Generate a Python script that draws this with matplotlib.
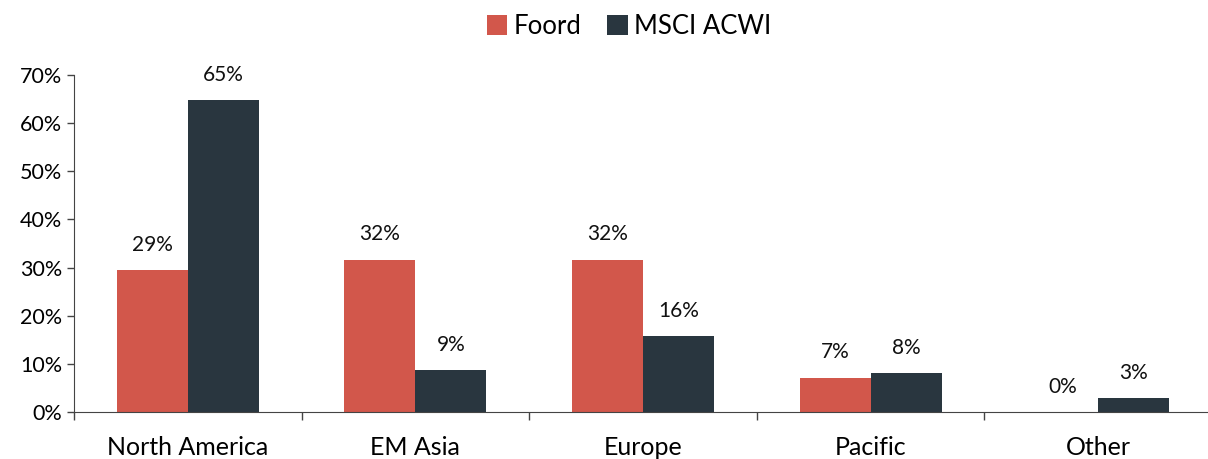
import matplotlib
matplotlib.use("Agg")
import matplotlib.pyplot as plt
import numpy as np
from matplotlib.ticker import FuncFormatter, FixedLocator

categories = ["North America", "EM Asia", "Europe", "Pacific", "Other"]
foord = [29.5, 31.6, 31.6, 7.1, 0.0]
msci = [64.8, 8.7, 15.8, 8.1, 2.9]
foord_labels = ["29%", "32%", "32%", "7%", "0%"]
msci_labels = ["65%", "9%", "16%", "8%", "3%"]
series_names = ["Foord", "MSCI ACWI"]

plt.rcParams['font.family'] = ['Lato', 'DejaVu Sans']
c_foord = "#D2574B"
c_msci = "#29363F"

fig = plt.figure(figsize=(12.08, 4.59), dpi=100)
ax = fig.add_axes([74/1208, 47/459, (1212-74)/1208, (412-75)/459])

x = np.arange(len(categories))
w = 0.312
b1 = ax.bar(x - w/2, foord, w, color=c_foord, label=series_names[0])
b2 = ax.bar(x + w/2, msci, w, color=c_msci, label=series_names[1])

for rect, lab in zip(b1, foord_labels):
    ax.text(rect.get_x() + rect.get_width()/2, rect.get_height() + 3.2, lab,
            ha='center', va='bottom', fontsize=15, color='#111111')
for rect, lab in zip(b2, msci_labels):
    ax.text(rect.get_x() + rect.get_width()/2, rect.get_height() + 3.2, lab,
            ha='center', va='bottom', fontsize=15, color='#111111')

ax.set_ylim(0, 70)
ax.set_xlim(-0.5, len(categories) - 0.5)
ax.set_yticks(np.arange(0, 71, 10))
ax.yaxis.set_major_formatter(FuncFormatter(lambda v, p: f"{int(v)}%"))
ax.tick_params(axis='y', labelsize=15.5, length=5, width=1, color='#444444', pad=3.5)

ax.set_xticks(x)
ax.set_xticklabels(categories, fontsize=18)
ax.tick_params(axis='x', length=0, pad=17)
ax.xaxis.set_minor_locator(FixedLocator(np.arange(-0.5, len(categories), 1.0)))
ax.tick_params(axis='x', which='minor', length=6, width=1, color='#444444')

for s in ['top', 'right']:
    ax.spines[s].set_visible(False)
ax.spines['left'].set_color('#444444')
ax.spines['bottom'].set_color('#444444')

fig.legend(handles=[b1, b2], labels=series_names, loc='upper center',
           bbox_to_anchor=(629/1208, 1.02), ncol=2, frameon=False, fontsize=18.5,
           handlelength=0.8, handleheight=0.8, columnspacing=1.0, handletextpad=0.25)

fig.savefig("out.png", dpi=100)
